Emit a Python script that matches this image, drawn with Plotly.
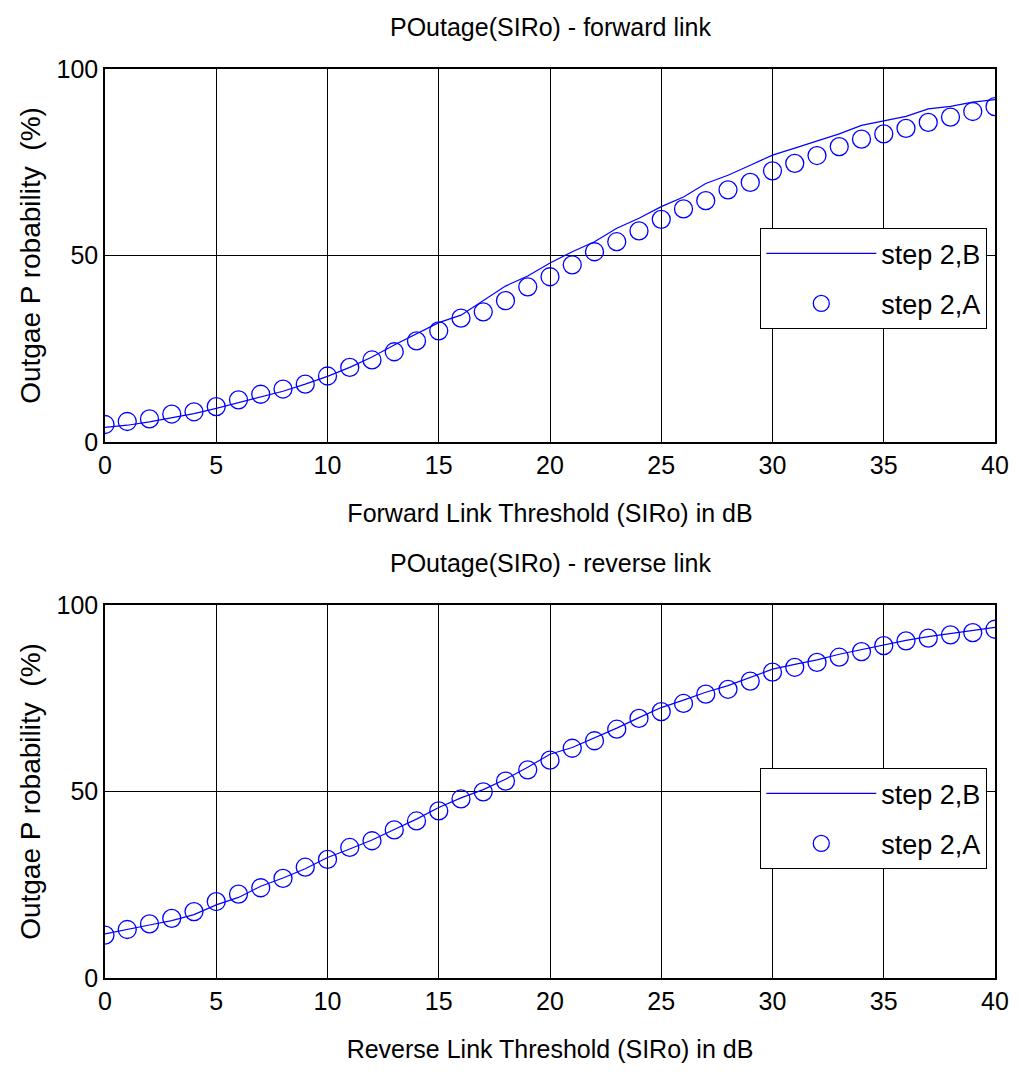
import plotly.graph_objects as go
from plotly.subplots import make_subplots

sir_db = list(range(0, 41))

fwd_step2A = [4.7, 5.5, 6.2, 7.5, 8.1, 9.5, 11.3, 12.8, 14.2, 15.5,
              17.7, 20.0, 22.0, 24.2, 27.1, 29.8, 33.2, 34.9, 37.9, 41.6,
              44.3, 47.5, 51.0, 53.7, 56.6, 59.7, 62.5, 64.7, 67.6, 69.6,
              72.7, 74.7, 76.8, 79.2, 81.2, 82.6, 84.1, 85.7, 87.1, 88.6, 89.9]
fwd_step2B = [3.9, 4.5, 5.4, 6.4, 7.6, 9.0, 10.5, 12.0, 13.6, 15.5,
              17.6, 20.0, 22.8, 26.0, 29.0, 32.0, 34.0, 37.8, 41.8, 44.5,
              48.0, 51.0, 53.7, 57.3, 60.0, 63.1, 65.7, 69.3, 71.5, 74.2,
              76.9, 78.8, 80.6, 82.6, 84.9, 86.0, 87.3, 89.3, 90.0, 91.1, 91.8]

rev_step2A = [11.5, 13.0, 14.5, 16.0, 17.8, 20.5, 22.5, 24.2, 26.7, 29.7,
              31.8, 35.0, 36.8, 39.7, 42.1, 44.8, 48.0, 49.9, 52.8, 55.8,
              58.4, 61.6, 63.6, 66.7, 69.6, 71.4, 73.6, 76.1, 77.4, 79.6,
              82.0, 83.3, 84.6, 86.0, 87.5, 89.1, 90.4, 91.1, 92.0, 92.6, 93.5]
rev_step2B = [11.8, 12.9, 14.2, 15.4, 17.0, 19.6, 21.6, 24.6, 26.8, 29.3,
              32.3, 34.6, 37.0, 39.8, 42.6, 45.7, 48.3, 50.5, 53.3, 56.5,
              60.0, 61.8, 64.3, 67.0, 69.8, 72.5, 74.5, 76.6, 78.4, 80.5,
              82.8, 84.1, 85.3, 86.8, 88.1, 89.4, 90.5, 91.5, 92.3, 93.1, 94.0]

y_ticks = [0, 50, 100]
x_ticks = [0, 5, 10, 15, 20, 25, 30, 35, 40]

titles = ["POutage(SIRo) - forward link", "POutage(SIRo) - reverse link"]
x_titles = ["Forward Link Threshold (SIRo) in dB", "Reverse Link Threshold (SIRo) in dB"]
y_title = "Outgae P robability  (%)"

FONT = "Liberation Sans Narrow, Liberation Sans, Arial, sans-serif"
BLUE = "#0000FF"

fig = make_subplots(rows=2, cols=1, vertical_spacing=0.1793)

panels = [(fwd_step2B, fwd_step2A, "legend"), (rev_step2B, rev_step2A, "legend2")]
for i, (lineB, ptsA, leg) in enumerate(panels, start=1):
    fig.add_trace(go.Scatter(x=sir_db, y=lineB, mode="lines", name="step 2,B",
                             line=dict(color=BLUE, width=1.2), legend=leg,
                             legendgroup=f"B{i}"),
                  row=i, col=1)
    fig.add_trace(go.Scatter(x=sir_db, y=ptsA, mode="markers", name="step 2,A",
                             marker=dict(symbol="circle-open", size=18,
                                         color=BLUE, line=dict(width=1.3, color=BLUE)),
                             legend=leg, legendgroup=f"A{i}"),
                  row=i, col=1)

axis_common = dict(showline=True, linecolor="black", linewidth=1.5, mirror=True,
                   showgrid=True, gridcolor="black", gridwidth=1,
                   zeroline=False, ticks="inside", ticklen=5, tickcolor="black",
                   automargin=False,
                   tickfont=dict(family=FONT, size=25, color="black"))

for i in (1, 2):
    fig.update_xaxes(range=[0, 40], tickvals=x_ticks, **axis_common,
                     title=dict(text=x_titles[i - 1], standoff=27,
                                font=dict(family=FONT, size=25, color="black")),
                     row=i, col=1)
    fig.update_yaxes(range=[0, 100], tickvals=y_ticks, **axis_common,
                     title=dict(text=y_title, standoff=8,
                                font=dict(family="Liberation Sans, Arial", size=28, color="black")),
                     row=i, col=1)

# Subplot titles
ann = []
for i, t in enumerate(titles):
    yd = fig.layout["yaxis" if i == 0 else "yaxis2"].domain
    ann.append(dict(text=t, x=0.5, xref="paper", y=yd[1], yref="paper",
                    yanchor="middle", yshift=42, showarrow=False,
                    font=dict(family=FONT, size=25, color="black")))
fig.update_layout(annotations=ann)

legend_style = dict(bgcolor="white", bordercolor="black", borderwidth=1.3,
                    font=dict(family=FONT, size=27, color="black"),
                    xanchor="right", yanchor="top", x=0.991,
                    itemwidth=110, tracegroupgap=12, traceorder="grouped")

y1d = fig.layout.yaxis.domain
y2d = fig.layout.yaxis2.domain
fig.update_layout(
    legend=dict(**legend_style, y=y1d[0] + (y1d[1] - y1d[0]) * (442 - 228) / 373),
    legend2=dict(**legend_style, y=y2d[0] + (y2d[1] - y2d[0]) * (978 - 768) / 373),
    width=1018, height=1072,
    margin=dict(l=97, r=31, t=61, b=102),
    plot_bgcolor="white", paper_bgcolor="white",
    showlegend=True,
)

fig.write_html("out.html")
